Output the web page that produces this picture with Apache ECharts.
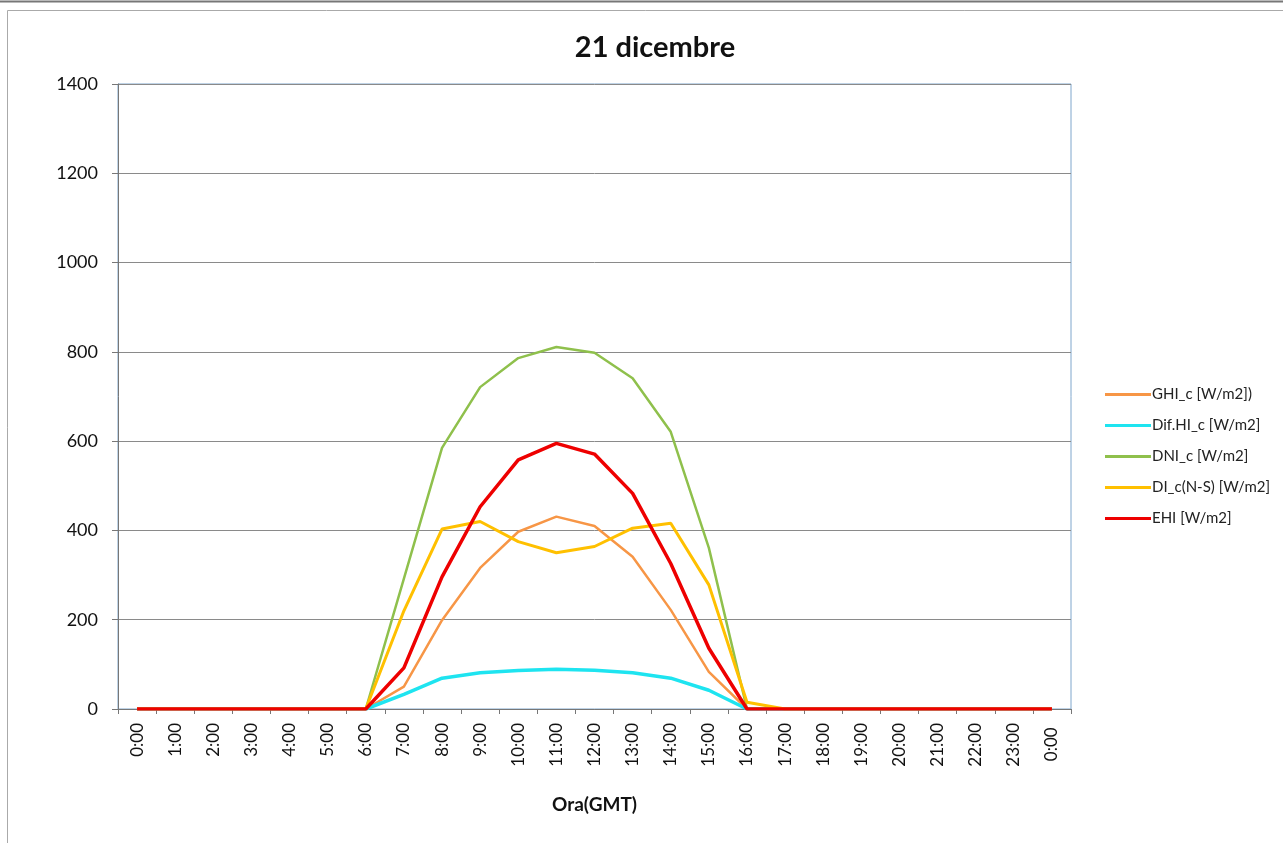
<!DOCTYPE html>
<html>
<head>
<meta charset="utf-8">
<script src="https://cdn.jsdelivr.net/npm/echarts@6/dist/echarts.min.js"></script>
<style>
    html, body { margin: 0; padding: 0; background: #fff; }
    #chart { width: 1283px; height: 843px; }
</style>
</head>
<body>
<div id="chart"></div>
<script>
// Hours on the x axis (the day ends on the next 0:00)
const hours = ['0:00', '1:00', '2:00', '3:00', '4:00', '5:00', '6:00', '7:00', '8:00', '9:00',
    '10:00', '11:00', '12:00', '13:00', '14:00', '15:00', '16:00', '17:00', '18:00', '19:00',
    '20:00', '21:00', '22:00', '23:00', '0:00 '];

// Irradiance values, W/m2
const ghi    = [0, 0, 0, 0, 0, 0, 0, 50, 199, 316, 397, 431, 410, 341, 222, 83, 0, 0, 0, 0, 0, 0, 0, 0, 0];
const difHi  = [0, 0, 0, 0, 0, 0, 0, 33, 69, 81, 86, 89, 87, 81, 69, 42, 0, 0, 0, 0, 0, 0, 0, 0, 0];
const dni    = [0, 0, 0, 0, 0, 0, 0, 292, 585, 721, 786, 811, 798, 741, 621, 361, 0, 0, 0, 0, 0, 0, 0, 0, 0];
const diNS   = [0, 0, 0, 0, 0, 0, 0, 220, 403, 420, 375, 350, 364, 405, 416, 278, 15, 0, 0, 0, 0, 0, 0, 0, 0];
const ehi    = [0, 0, 0, 0, 0, 0, 0, 92, 296, 453, 558, 595, 571, 483, 326, 136, 0, 0, 0, 0, 0, 0, 0, 0, 0];

const seriesNames = ['GHI_c [W/m2])', 'Dif.HI_c [W/m2]', 'DNI_c [W/m2]', 'DI_c(N-S) [W/m2]', 'EHI [W/m2]'];
const seriesColors = ['#f79646', '#1ee4f0', '#8fc04c', '#ffc000', '#ee0000'];
const seriesWidths = [2.5, 3.5, 2.5, 3, 3.5];
const seriesData = [ghi, difHi, dni, diNS, ehi];

const chart = echarts.init(document.getElementById('chart'));

const font = 'Lato, "Liberation Sans", sans-serif';

const option = {
    animation: false,
    backgroundColor: '#fff',
    title: {
        text: '21 dicembre',
        left: 650,
        top: 28,
        textAlign: 'center',
        textStyle: { fontFamily: font, fontSize: 29, fontWeight: 'bold', color: '#111' }
    },
    graphic: [
        { type: 'line', shape: { x1: 0, y1: 1.5, x2: 1283, y2: 1.5 }, style: { stroke: '#777', lineWidth: 2 } },
        { type: 'rect', shape: { x: 7.5, y: 10.5, width: 1290, height: 840 }, style: { fill: 'none', stroke: '#aaa', lineWidth: 1 } }
    ],
    legend: {
        orient: 'vertical',
        left: 1100,
        top: 382,
        itemWidth: 46,
        itemHeight: 3,
        itemGap: 16,
        icon: 'rect',
        data: seriesNames,
        textStyle: { fontFamily: font, fontSize: 15, color: '#222', padding: [0, 0, 0, -4] }
    },
    grid: {
        left: 118,
        right: 212,
        top: 84,
        bottom: 134,
        show: true,
        borderColor: '#7fa6cc',
        borderWidth: 1
    },
    xAxis: {
        type: 'category',
        data: hours,
        boundaryGap: true,
        name: 'Ora(GMT)',
        nameLocation: 'middle',
        nameGap: 86,
        nameTextStyle: { fontFamily: font, fontSize: 19, fontWeight: 'bold', color: '#111' },
        axisLine: { lineStyle: { color: '#777', width: 1 } },
        axisTick: { show: true, length: 5, lineStyle: { color: '#777' } },
        axisLabel: { rotate: 90, margin: 14, fontFamily: font, fontSize: 17, color: '#111', interval: 0 }
    },
    yAxis: {
        type: 'value',
        min: 0,
        max: 1400,
        interval: 200,
        axisLine: { show: true, lineStyle: { color: '#777', width: 1 } },
        axisTick: { show: true, length: 6, lineStyle: { color: '#777' } },
        axisLabel: { margin: 20, fontFamily: font, fontSize: 18, color: '#111', formatter: v => String(v) },
        splitLine: { lineStyle: { color: '#8a8a8a', width: 1 } }
    },
    series: seriesNames.map((name, i) => ({
        name: name,
        type: 'line',
        data: seriesData[i],
        showSymbol: false,
        symbol: 'none',
        z: i === 4 ? 5 : 2,
        itemStyle: { color: seriesColors[i] },
        lineStyle: { color: seriesColors[i], width: seriesWidths[i] }
    }))
};

chart.setOption(option);
</script>
</body>
</html>
